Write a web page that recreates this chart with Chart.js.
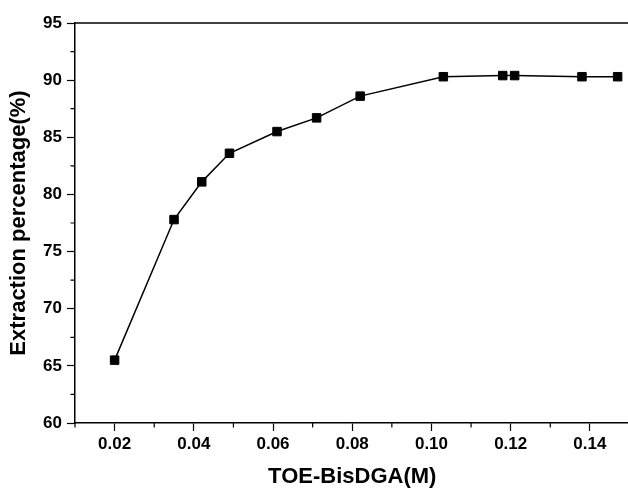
<!DOCTYPE html>
<html>
<head>
<meta charset="utf-8">
<script src="https://cdn.jsdelivr.net/npm/chart.js@4/dist/chart.umd.min.js"></script>
<style>
  html, body { margin: 0; padding: 0; background: #fff; overflow: hidden; width: 628px; height: 488px; }
  canvas { display: block; }
</style>
</head>
<body>
<canvas id="chart" width="632" height="488"></canvas>
<script>
// data
const concM = [0.02, 0.035, 0.042, 0.049, 0.061, 0.071, 0.082, 0.103, 0.118, 0.121, 0.138, 0.147];
const extraction = [65.5, 77.8, 81.1, 83.6, 85.5, 86.7, 88.6, 90.3, 90.4, 90.4, 90.3, 90.3];

const xTicks = [0.02, 0.04, 0.06, 0.08, 0.10, 0.12, 0.14];
const xMinor = [0.01, 0.03, 0.05, 0.07, 0.09, 0.11, 0.13, 0.15];
const yTicks = [60, 65, 70, 75, 80, 85, 90, 95];
const yMinor = [62.5, 67.5, 72.5, 77.5, 82.5, 87.5, 92.5];

const tickFont = { family: 'Arial, "Liberation Sans", sans-serif', size: 17, weight: 'bold' };
const titleFont = { family: 'Arial, "Liberation Sans", sans-serif', size: 22, weight: 'bold', lineHeight: 1 };

// minor ticks + top frame line
const framePlugin = {
  id: 'frame',
  afterDraw(chart) {
    const ctx = chart.ctx;
    const { left, right, top, bottom } = chart.chartArea;
    const xs = chart.scales.x, ys = chart.scales.y;
    ctx.save();
    ctx.strokeStyle = '#000';
    ctx.lineWidth = 1.5;
    ctx.beginPath();
    ctx.moveTo(left, top);
    ctx.lineTo(right + 5, top);
    ctx.stroke();
    ctx.lineWidth = 1.2;
    ctx.beginPath();
    xMinor.forEach(v => {
      const px = xs.getPixelForValue(v);
      ctx.moveTo(px, bottom);
      ctx.lineTo(px, bottom + 4.5);
    });
    yMinor.forEach(v => {
      const py = ys.getPixelForValue(v);
      ctx.moveTo(left, py);
      ctx.lineTo(left - 4.5, py);
    });
    ctx.stroke();
    ctx.restore();
  }
};

new Chart(document.getElementById('chart'), {
  type: 'scatter',
  data: {
    datasets: [{
      data: concM.map((x, i) => ({ x, y: extraction[i] })),
      showLine: true,
      borderColor: '#000',
      borderWidth: 1.5,
      backgroundColor: '#000',
      pointStyle: 'rect',
      pointRadius: 6,
      pointBorderWidth: 1,
      pointBorderColor: '#000',
      tension: 0,
      clip: false
    }]
  },
  options: {
    responsive: false,
    animation: false,
    layout: { autoPadding: false, padding: { top: 23, right: 2.5, left: 0, bottom: 0 } },
    plugins: { legend: { display: false }, tooltip: { enabled: false } },
    scales: {
      x: {
        type: 'linear',
        min: 0.01,
        max: 0.15,
        afterBuildTicks: s => { s.ticks = xTicks.map(v => ({ value: v })); },
        afterFit: s => { s.height = 65; },
        grid: { drawOnChartArea: false, tickLength: 8, tickColor: '#000', tickWidth: 1.2 },
        border: { color: '#000', width: 1.5 },
        ticks: { color: '#000', font: tickFont, padding: 3, maxRotation: 0, callback: v => v.toFixed(2) },
        title: { display: true, text: 'TOE-BisDGA(M)', color: '#000', font: titleFont, padding: { top: 0, bottom: 0 } }
      },
      y: {
        min: 60,
        max: 95,
        afterBuildTicks: s => { s.ticks = yTicks.map(v => ({ value: v })); },
        afterFit: s => { s.width = 75; },
        grid: { drawOnChartArea: false, tickLength: 8, tickColor: '#000', tickWidth: 1.2 },
        border: { color: '#000', width: 1.5 },
        ticks: { color: '#000', font: tickFont, padding: 5, callback: v => String(v) },
        title: { display: true, text: 'Extraction percentage(%)', color: '#000', font: titleFont, padding: { top: 8, bottom: 0 } }
      }
    }
  },
  plugins: [framePlugin]
});
</script>
</body>
</html>
